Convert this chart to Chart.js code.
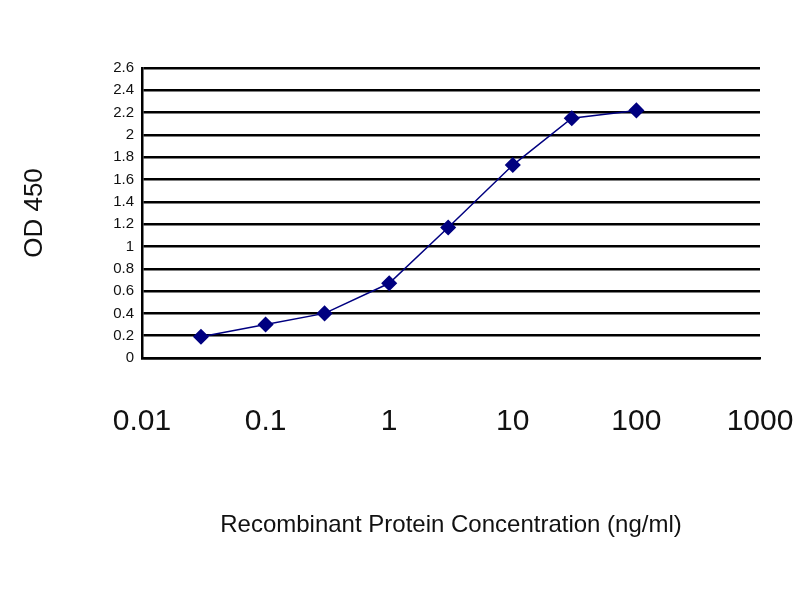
<!DOCTYPE html>
<html>
<head>
<meta charset="utf-8">
<script src="https://cdn.jsdelivr.net/npm/chart.js@4/dist/chart.umd.min.js"></script>
<style>
    html, body { margin: 0; padding: 0; background: #ffffff; }
    #wrap { width: 800px; height: 600px; }
</style>
</head>
<body>
<div id="wrap"><canvas id="odChart"></canvas></div>
<script>
// Concentrations (ng/ml) and measured OD 450
const concentrations = [0.03, 0.1, 0.3, 1, 3, 10, 30, 100];
const odValues = [0.19, 0.30, 0.40, 0.67, 1.17, 1.73, 2.15, 2.22];

const xLabels = ["0.01", "0.1", "1", "10", "100", "1000"];
const yMax = 2.6;
const yStep = 0.2;

const points = concentrations.map((c, i) => ({ x: c, y: odValues[i] }));

const ctx = document.getElementById("odChart");

new Chart(ctx, {
    type: "scatter",
    data: {
        datasets: [{
            data: points,
            showLine: true,
            borderColor: "#000080",
            backgroundColor: "#000080",
            borderWidth: 1.5,
            pointStyle: "rectRot",
            pointRadius: 7,
            pointHoverRadius: 7
        }]
    },
    options: {
        responsive: true,
        maintainAspectRatio: false,
        animation: false,
        layout: {
            padding: { top: 68, right: 0, bottom: 0, left: 0 }
        },
        plugins: {
            legend: { display: false },
            tooltip: { enabled: false }
        },
        scales: {
            x: {
                type: "logarithmic",
                min: 0.01,
                max: 1000,
                grid: { display: false },
                border: { color: "#000000", width: 2.5 },
                ticks: {
                    autoSkip: false,
                    maxRotation: 0,
                    padding: 38,
                    color: "#111111",
                    font: { family: "'Liberation Sans', Arial, sans-serif", size: 30 },
                    callback: function (v) {
                        const p = Math.log10(v);
                        if (Math.abs(p - Math.round(p)) > 1e-9) return "";
                        return xLabels[Math.round(p) + 2];
                    }
                },
                title: {
                    display: true,
                    text: "Recombinant Protein Concentration (ng/ml)",
                    color: "#111111",
                    font: { family: "'Liberation Sans', Arial, sans-serif", size: 24 },
                    padding: { top: 4, bottom: 60 }
                },
                afterFit: function (scale) {
                    scale.height = 242;
                    scale.paddingRight = 40;
                }
            },
            y: {
                min: 0,
                max: yMax,
                grid: { color: "#000000", lineWidth: 2.5, drawTicks: false },
                border: { color: "#000000", width: 2.5 },
                ticks: {
                    stepSize: yStep,
                    autoSkip: false,
                    padding: 8,
                    color: "#111111",
                    font: { family: "'Liberation Sans', Arial, sans-serif", size: 15 },
                    callback: v => String(Number(v.toFixed(1)))
                },
                title: {
                    display: true,
                    text: "OD 450",
                    color: "#111111",
                    font: { family: "'Liberation Sans', Arial, sans-serif", size: 26 },
                    padding: 19
                },
                afterFit: function (scale) { scale.width = 142; }
            }
        }
    }
});
</script>
</body>
</html>
